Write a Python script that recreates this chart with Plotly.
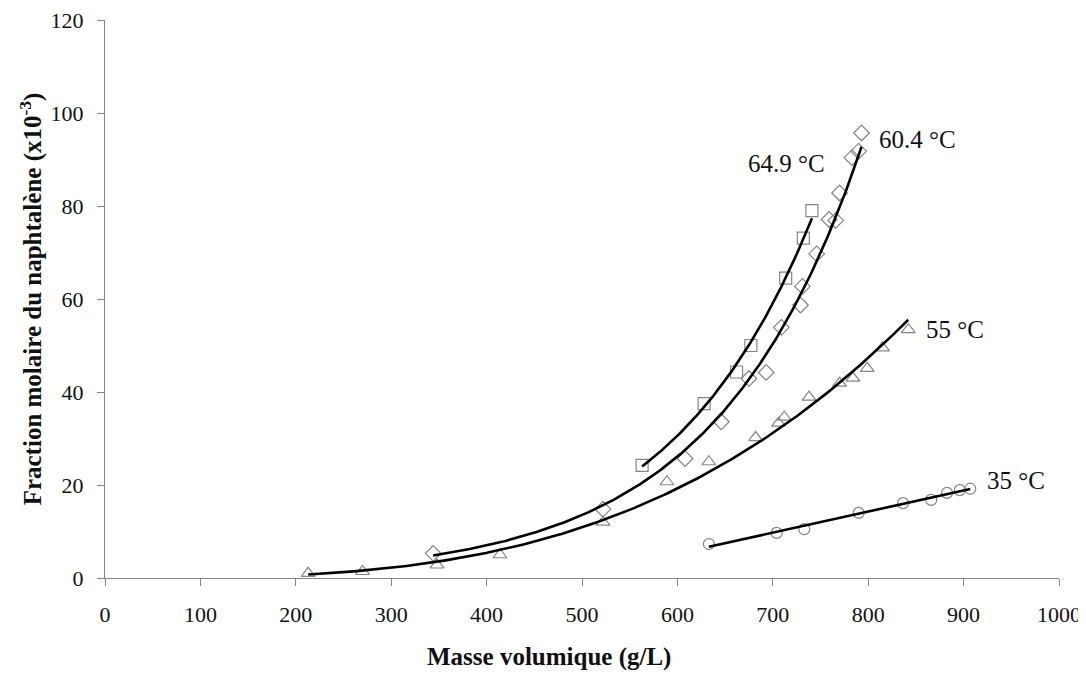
import numpy as np
import plotly.graph_objects as go

# ---- data ----
x_649 = [563, 628, 662, 677, 713.5, 732, 741]
y_649 = [24.2, 37.5, 44.3, 50.0, 64.5, 73.1, 79.0]

x_604 = [344, 522, 608, 646, 675, 693, 709, 729, 731, 746, 759, 766, 770, 783, 790, 793]
y_604 = [5.3, 14.8, 25.7, 33.6, 42.9, 44.2, 53.9, 58.7, 62.7, 69.7, 77.1, 76.9, 82.8, 90.4, 91.8, 95.7]

x_55 = [213, 270, 348, 414, 522, 589, 633, 682, 706, 712, 738, 770, 784, 799, 815, 842]
y_55 = [1.0, 1.4, 2.8, 5.0, 12.0, 20.7, 25.0, 30.2, 33.3, 34.6, 38.9, 41.9, 43.0, 45.1, 49.5, 53.4]

x_35 = [633, 704, 733, 790, 836.5, 866, 882.6, 896, 907]
y_35 = [7.3, 9.7, 10.5, 14.0, 16.1, 16.8, 18.3, 18.9, 19.2]

series_labels = ["64.9 °C", "60.4 °C", "55 °C", "35 °C"]
label_x = [714, 852, 891, 955]
label_y = [89.1, 94.3, 53.4, 20.9]

x_ticks = [0, 100, 200, 300, 400, 500, 600, 700, 800, 900, 1000]
y_ticks = [0, 20, 40, 60, 80, 100, 120]

x_title = "<b>Masse volumique (g/L)</b>"
y_title = "<b>Fraction molaire du naphtalène (x10<sup>-3</sup>)</b>"

# ---- trend lines (least-squares fits of the data, like spreadsheet trendlines) ----
def exp_fit(xs, ys):
    xs, ys = np.asarray(xs, float), np.asarray(ys, float)
    b, lna = np.polyfit(xs, np.log(ys), 1)
    xx = np.linspace(xs.min(), xs.max(), 200)
    return xx, np.exp(lna) * np.exp(b * xx)

def pow_fit(xs, ys):
    xs, ys = np.asarray(xs, float), np.asarray(ys, float)
    b, lna = np.polyfit(np.log(xs), np.log(ys), 1)
    xx = np.linspace(xs.min(), xs.max(), 200)
    return xx, np.exp(lna) * xx ** b

def lin_fit(xs, ys):
    xs, ys = np.asarray(xs, float), np.asarray(ys, float)
    m, c = np.polyfit(xs, ys, 1)
    xx = np.linspace(xs.min(), xs.max(), 50)
    return xx, m * xx + c

fits = [exp_fit(x_649, y_649), exp_fit(x_604, y_604), pow_fit(x_55, y_55), lin_fit(x_35, y_35)]

MARK = "#858585"
fig = go.Figure()
for xs, ys, sym, sz in [(x_649, y_649, "square-open", 12),
                        (x_604, y_604, "diamond-open", 12),
                        (x_55, y_55, "triangle-up-open", 12),
                        (x_35, y_35, "circle-open", 11)]:
    fig.add_trace(go.Scatter(x=xs, y=ys, mode="markers",
                             marker=dict(symbol=sym, size=sz, color=MARK,
                                         line=dict(color=MARK, width=1.2)),
                             showlegend=False, hoverinfo="skip"))
for xx, yy in fits:
    fig.add_trace(go.Scatter(x=xx, y=yy, mode="lines",
                             line=dict(color="black", width=2.6),
                             showlegend=False, hoverinfo="skip"))

for t, lx, ly in zip(series_labels, label_x, label_y):
    fig.add_annotation(x=lx, y=ly, text=t, showarrow=False,
                       font=dict(family="Liberation Serif", size=25, color="#111"))

# x-axis title (placed as in the reference, slightly left of the plot centre)
fig.add_annotation(x=465, xref="x", y=-0.1416, yref="paper", yanchor="middle",
                   text=x_title, showarrow=False,
                   font=dict(family="Liberation Serif", size=25, color="#111"))

# page body has an 8px default margin; the figure is sized/offset to compensate
fig.update_layout(
    width=1078, height=667,
    margin=dict(l=97, r=27, t=12, b=97),
    paper_bgcolor="white", plot_bgcolor="white",
    font=dict(family="Liberation Serif", color="#111"),
)
fig.update_xaxes(range=[0, 1000], tickvals=x_ticks, ticks="outside", ticklen=7,
                 tickcolor="#868686", showline=True, linecolor="#868686", linewidth=1.3,
                 showgrid=False, zeroline=False, tickfont=dict(size=22),
                 ticklabelstandoff=9, ticklabeloverflow="allow", automargin=False)
fig.update_yaxes(range=[0, 120], tickvals=y_ticks, ticks="outside", ticklen=7,
                 tickcolor="#868686", showline=True, linecolor="#868686", linewidth=1.3,
                 showgrid=False, zeroline=False, tickfont=dict(size=22),
                 ticklabelstandoff=9, ticklabeloverflow="allow", automargin=False,
                 title=dict(text=y_title, font=dict(size=25), standoff=1))

fig.write_html("out.html")
